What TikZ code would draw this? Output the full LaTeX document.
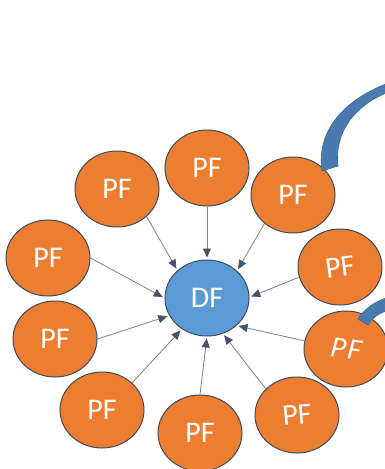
\documentclass[tikz,border=0pt]{standalone}
\usepackage{fontspec}
\setmainfont{Carlito}
\usetikzlibrary{shapes.geometric,arrows.meta}
\definecolor{pforange}{HTML}{ED7D31}
\definecolor{dfblue}{HTML}{5B9BD5}
\definecolor{edgec}{HTML}{3F4C5C}
\definecolor{linkc}{HTML}{75828F}
\definecolor{headc}{HTML}{44546A}
\definecolor{swfill}{HTML}{4A7BB0}
\definecolor{swedge}{HTML}{3A6590}
\begin{document}
\begin{tikzpicture}[x=1pt,y=-1pt,
  pf/.style={ellipse, draw=edgec, line width=1pt, fill=pforange,
    minimum width=84pt, minimum height=76pt, inner sep=0pt,
    text=white, font=\fontsize{30}{30}\selectfont},
  df/.style={pf, fill=dfblue},
  link/.style={draw=linkc, line width=0.8pt, shorten >=2pt,
    -{Triangle[length=9pt,width=8pt,color=headc,fill=headc]}},
  swoosh/.style={fill=swfill, draw=swedge, line width=0.6pt}]
\useasboundingbox (0,0) rectangle (385,469);
\fill[white] (0,0) rectangle (385,469);
% nodes
\node[df] (df) at (207,298) {DF};
\node[pf] (tl) at (117,189) {PF};
\node[pf] (t)  at (207,168) {PF};
\node[pf] (tr) at (293,195) {PF};
\node[pf] (r1) at (340,267) {\rotatebox{8}{PF}};
\node[pf] (r2) at (346,349) {\rotatebox{-8}{\itshape P\kern1.5pt F}};
\node[pf] (br) at (297,415) {\rotatebox{5}{PF}};
\node[pf] (b)  at (200,433) {PF};
\node[pf] (bl) at (102,410) {PF};
\node[pf] (l2) at (55,339)  {PF};
\node[pf] (l1) at (48,258)  {PF};
% connectors
\draw[link] (tl.-43)  -- (df.137);
\draw[link] (t.-90)   -- (df.90);
\draw[link] (tr.-135) -- (df.42);
\draw[link] (r1.-166) -- (df.1);
\draw[link] (r2.169)  -- (df.-43);
\draw[link] (br.140)  -- (df.-66);
\draw[link] (b.90)    -- (df.-90);
\draw[link] (bl.42)   -- (df.-129);
\draw[link] (l2.0)    -- (df.-155);
\draw[link] (l1.0)    -- (df.180);
% blue swooshes
\draw[swoosh] (386,84) .. controls (345,100) and (316,130) .. (322,171)
  -- (338,166) .. controls (334,132) and (355,106) .. (386,93) -- cycle;
\draw[swoosh] (358,319) .. controls (365,308) and (375,302) .. (386,298)
  -- (386,311) .. controls (378,314) and (372,318) .. (368,325) -- cycle;
\end{tikzpicture}
\end{document}
